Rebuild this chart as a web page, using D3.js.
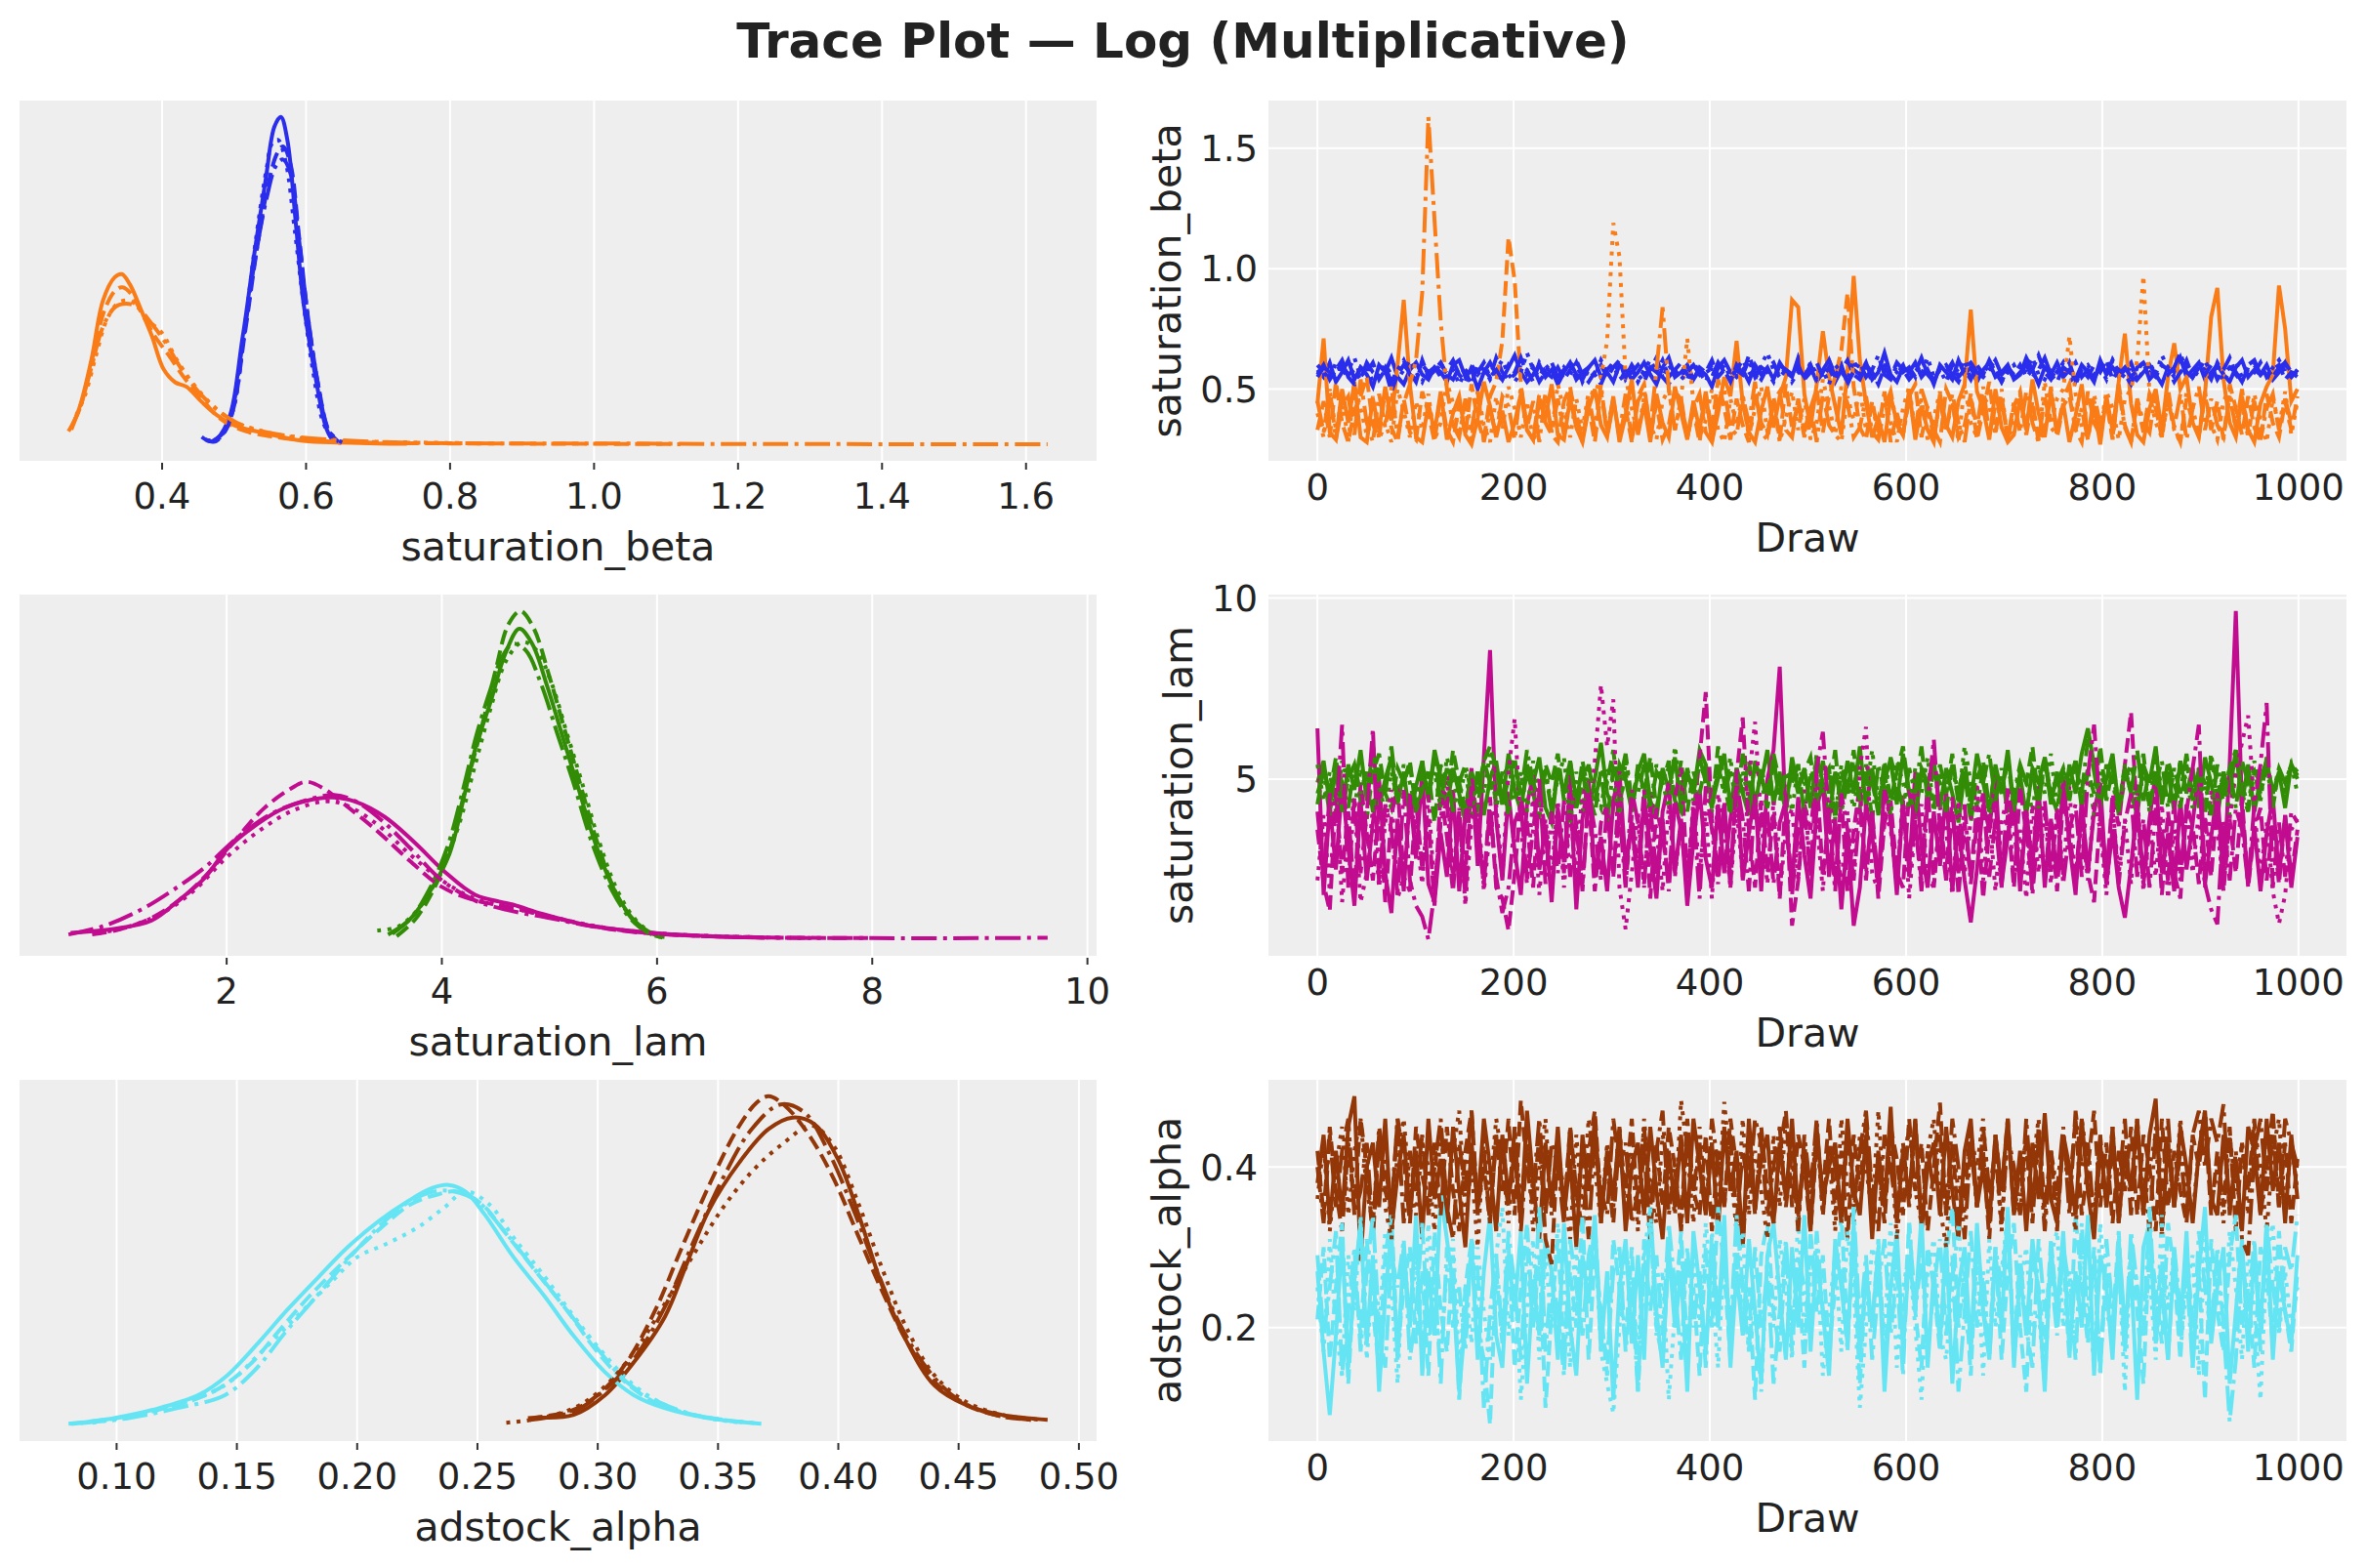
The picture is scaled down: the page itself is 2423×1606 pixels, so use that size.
<!DOCTYPE html>
<html>
<head>
<meta charset="utf-8">
<script src="https://cdn.jsdelivr.net/npm/d3@7"></script>
<style>
  body { margin: 0; background: #fff; }
  text { font-family: "DejaVu Sans", sans-serif; fill: #222; }
</style>
</head>
<body>
<script>
const width = 2423
const height = 1606

// ---- KDE curves, one per chain: [value, relative density] ----
const kdeBetaBlue = [
  [[0.455,2.3],[0.470,0.9],[0.491,6.8],[0.512,33],[0.528,58],[0.544,81],[0.556,97],[0.565,100],[0.574,93],[0.586,67],[0.596,44],[0.612,22],[0.628,5],[0.638,1.2],[0.649,0.5]],
  [[0.46,1.5],[0.475,1],[0.495,8],[0.515,34],[0.532,60],[0.548,80],[0.560,89],[0.568,91],[0.578,86],[0.590,64],[0.602,40],[0.617,18],[0.632,4],[0.645,0.8]],
  [[0.462,1.2],[0.48,2],[0.498,10],[0.515,36],[0.530,62],[0.545,84],[0.553,92],[0.561,93],[0.572,86],[0.584,66],[0.596,44],[0.610,22],[0.625,6],[0.64,1]],
  [[0.47,1],[0.49,5],[0.51,28],[0.528,55],[0.545,75],[0.558,85],[0.568,87],[0.578,83],[0.590,63],[0.602,40],[0.617,18],[0.632,4],[0.65,0.6]]
]
const kdeBetaOrange = [
  [[0.274,4.5],[0.287,12.5],[0.302,26],[0.318,44],[0.334,51],[0.344,52],[0.355,49],[0.371,41],[0.386,33],[0.402,23],[0.418,19],[0.434,17.6],[0.455,13],[0.476,9],[0.502,5.7],[0.544,3.4],[0.596,1.1],[0.649,0.6],[0.70,0.3],[0.74,0.2]],
  [[0.275,5.7],[0.29,14],[0.305,28],[0.32,41],[0.335,47],[0.345,48],[0.357,46],[0.372,40],[0.39,33],[0.41,27],[0.432,20],[0.455,14],[0.48,8],[0.51,4.5],[0.55,2.5],[0.60,1.3],[0.70,0.5],[0.85,0.3],[1.0,0.2],[1.12,0.1]],
  [[0.281,9],[0.293,15],[0.308,27],[0.323,38],[0.338,43],[0.35,44],[0.362,43],[0.38,38],[0.40,34],[0.42,26],[0.445,18],[0.47,12],[0.50,7],[0.54,4],[0.59,2],[0.65,1],[0.75,0.6],[0.85,0.3]],
  [[0.27,4],[0.284,10],[0.30,22],[0.318,36],[0.335,42],[0.35,43],[0.365,42],[0.385,37],[0.405,31],[0.43,22],[0.455,15],[0.48,10],[0.51,6],[0.55,3.5],[0.60,2],[0.70,0.8],[0.80,0.4],[1.0,0.3],[1.2,0.15],[1.4,0.1],[1.63,0.1]]
]
const kdeLamGreen = [
  [[3.54,1.7],[3.72,6.7],[3.89,14.6],[4.07,26],[4.21,44],[4.31,58],[4.45,72],[4.59,87],[4.72,94.6],[4.84,90],[4.98,77],[5.12,62],[5.26,47],[5.44,28],[5.61,14.6],[5.79,5.7],[5.96,1.7],[6.07,0.7]],
  [[3.58,1],[3.75,6],[3.92,15],[4.08,28],[4.22,46],[4.35,62],[4.5,82],[4.62,96],[4.73,100],[4.85,95],[5.0,80],[5.14,64],[5.28,48],[5.45,29],[5.62,14],[5.8,5],[5.95,1.5],[6.05,0.6]],
  [[3.40,2.7],[3.6,4],[3.8,10],[3.98,20],[4.15,34],[4.3,52],[4.45,70],[4.6,85],[4.75,90.6],[4.88,88],[5.02,78],[5.16,63],[5.3,48],[5.46,30],[5.63,15],[5.8,6],[5.95,2],[6.05,0.8]],
  [[3.5,1.5],[3.7,6],[3.88,15],[4.05,28],[4.2,46],[4.32,62],[4.45,76],[4.56,86],[4.66,90],[4.78,88],[4.92,78],[5.07,63],[5.22,48],[5.4,29],[5.58,15],[5.76,6],[5.92,2],[6.03,0.8]]
]
const kdeLamMagenta = [
  [[0.55,2],[0.95,3.2],[1.30,5.7],[1.58,12.6],[1.79,18.5],[2.0,27.4],[2.21,33.3],[2.49,39.3],[2.77,42.4],[2.98,43.2],[3.19,42],[3.47,37.3],[3.75,29.4],[4.03,20.5],[4.31,13.6],[4.66,10.6],[4.94,7.7],[5.30,4.7],[5.72,2.7],[6.07,1.7],[6.56,0.9],[7.0,0.5]],
  [[0.75,1.5],[1.0,3],[1.3,6.5],[1.6,13],[1.85,21],[2.1,31],[2.35,40],[2.6,46],[2.74,48],[2.9,46],[3.1,41],[3.4,33],[3.7,24],[4.0,16],[4.3,12],[4.6,10],[5.0,7],[5.4,4],[5.8,2.2],[6.3,1.2],[7.0,0.6],[8.0,0.4]],
  [[0.8,1.8],[1.1,4],[1.4,8],[1.7,15],[2.0,25],[2.3,33],[2.6,39],[2.91,42],[3.1,41],[3.4,35],[3.7,26],[4.0,18],[4.3,12.5],[4.6,10],[5.0,7],[5.4,4.2],[5.8,2.4],[6.3,1.3],[7.0,0.6],[7.5,0.4]],
  [[0.53,1.5],[0.85,4],[1.2,9],[1.5,15],[1.8,22],[2.1,31],[2.4,38],[2.7,42],[3.0,44],[3.2,42],[3.45,36],[3.7,28],[4.0,18],[4.3,12],[4.6,9],[5.0,6.5],[5.4,4],[5.8,2.3],[6.3,1.2],[7.0,0.6],[8.0,0.4],[9.0,0.4],[9.63,0.5]]
]
const kdeAlphaBrown = [
  [[0.275,2.2],[0.29,3],[0.303,9],[0.315,19],[0.328,33],[0.337,49],[0.346,65],[0.359,80],[0.371,90],[0.381,93.5],[0.39,91.5],[0.40,80.6],[0.409,62.7],[0.418,42.8],[0.428,25.9],[0.44,11.9],[0.453,6],[0.468,3],[0.487,1.5]],
  [[0.271,2],[0.288,4],[0.30,9],[0.312,19],[0.324,35],[0.335,54],[0.347,74],[0.358,90],[0.366,98],[0.371,100],[0.378,97],[0.388,88],[0.398,75],[0.408,58],[0.418,41],[0.428,26],[0.44,13],[0.453,6],[0.468,2.5],[0.48,1.5]],
  [[0.262,0.6],[0.275,1.8],[0.29,5],[0.302,11],[0.315,22],[0.328,37],[0.34,52],[0.352,66],[0.364,77],[0.376,85],[0.389,91],[0.398,85],[0.408,68],[0.418,48],[0.428,30],[0.44,15],[0.453,7],[0.468,3],[0.484,1.5]],
  [[0.272,1.5],[0.29,4],[0.302,10],[0.315,20],[0.328,36],[0.34,56],[0.352,75],[0.364,90],[0.376,97.5],[0.386,95],[0.396,83],[0.406,66],[0.416,47],[0.426,30],[0.438,16],[0.45,7.5],[0.465,3],[0.48,1.5]]
]
const kdeAlphaCyan = [
  [[0.081,0.2],[0.099,2],[0.115,4.5],[0.134,9],[0.146,15],[0.159,25],[0.171,35],[0.184,45],[0.196,54],[0.209,62],[0.221,68],[0.231,72],[0.238,73],[0.245,71],[0.253,64],[0.265,51],[0.278,39],[0.290,27],[0.303,16],[0.315,9],[0.328,5],[0.346,2],[0.368,0.3]],
  [[0.08,0.3],[0.10,2],[0.12,5],[0.14,10],[0.155,18],[0.168,29],[0.18,39],[0.195,50],[0.21,60],[0.222,67],[0.233,70],[0.242,71],[0.252,67],[0.262,58],[0.275,46],[0.288,34],[0.30,22],[0.313,12],[0.326,6],[0.34,3],[0.355,1.2],[0.365,0.5]],
  [[0.09,0.6],[0.105,2.5],[0.125,6],[0.145,12],[0.16,22],[0.175,33],[0.19,44],[0.20,51],[0.212,55],[0.225,60],[0.236,66],[0.245,71],[0.255,67],[0.265,57],[0.278,45],[0.29,33],[0.302,22],[0.315,12],[0.328,6],[0.342,2.5],[0.36,0.6]],
  [[0.085,0.4],[0.105,2],[0.125,5],[0.145,9],[0.158,17],[0.17,28],[0.183,39],[0.197,51],[0.21,61],[0.222,68],[0.232,71],[0.24,71],[0.25,68],[0.26,60],[0.273,48],[0.286,36],[0.30,23],[0.312,13],[0.325,7],[0.34,3],[0.36,0.8]]
]

// ---- trace values, 4 chains each, 160 samples spread over draws 0..999 ----
const traceBetaBlue = [
  [.58,.55,.61,.53,.57,.62,.54,.59,.56,.51,.60,.57,.63,.55,.52,.58,.61,.56,.54,.59,.57,.53,.60,.62,.55,.58,.50,.57,.61,.56,.54,.59,.64,.57,.53,.56,.60,.55,.58,.52,.57,.61,.56,.54,.59,.62,.55,.57,.53,.60,.58,.54,.57,.61,.56,.52,.59,.63,.55,.57,.60,.54,.58,.56,.51,.59,.62,.57,.55,.58,.53,.60,.56,.59,.54,.61,.57,.55,.63,.56,.59,.53,.57,.62,.55,.60,.52,.58,.56,.61,.54,.57,.65,.56,.53,.59,.57,.61,.55,.58,.52,.60,.57,.54,.62,.56,.59,.53,.58,.61,.55,.57,.60,.54,.56,.63,.58,.52,.59,.56,.61,.55,.58,.54,.60,.57,.53,.62,.56,.59,.55,.58,.61,.54,.57,.60,.56,.52,.59,.57,.63,.55,.58,.61,.54,.57,.60,.56,.53,.59,.62,.55,.58,.56,.60,.54,.57,.61,.55,.58],
  [.56,.60,.54,.58,.62,.55,.52,.59,.57,.61,.54,.58,.49,.56,.60,.57,.53,.62,.55,.58,.61,.56,.54,.59,.57,.52,.60,.58,.55,.63,.57,.54,.56,.60,.58,.53,.61,.57,.55,.59,.54,.58,.62,.56,.53,.57,.60,.55,.59,.62,.54,.57,.60,.56,.58,.63,.55,.52,.58,.61,.56,.54,.59,.57,.62,.55,.58,.53,.60,.56,.64,.57,.54,.59,.61,.55,.58,.56,.60,.54,.57,.61,.55,.59,.53,.58,.62,.56,.54,.60,.57,.52,.59,.55,.61,.58,.54,.57,.63,.56,.53,.59,.57,.61,.55,.58,.54,.60,.56,.62,.57,.53,.59,.56,.60,.55,.58,.64,.57,.54,.59,.56,.61,.53,.58,.55,.60,.57,.62,.54,.58,.56,.52,.59,.61,.57,.55,.60,.58,.53,.57,.62,.55,.59,.56,.60,.54,.58,.63,.56,.53,.59,.57,.61,.55,.58,.60,.54,.57,.56],
  [.60,.57,.54,.61,.56,.58,.63,.55,.59,.53,.57,.60,.56,.54,.58,.62,.57,.53,.59,.56,.61,.55,.58,.52,.57,.60,.56,.59,.54,.58,.62,.56,.53,.57,.65,.58,.55,.60,.57,.54,.59,.56,.61,.53,.58,.55,.62,.57,.60,.54,.56,.59,.53,.58,.62,.57,.55,.60,.56,.58,.54,.61,.57,.53,.59,.56,.60,.55,.58,.62,.57,.54,.60,.65,.58,.55,.59,.53,.57,.55,.61,.56,.58,.52,.60,.57,.54,.62,.56,.59,.53,.58,.61,.55,.57,.60,.54,.59,.56,.63,.55,.58,.53,.60,.57,.62,.54,.58,.56,.61,.59,.53,.57,.60,.55,.58,.63,.56,.54,.59,.57,.61,.55,.52,.58,.60,.56,.59,.54,.62,.57,.55,.60,.53,.58,.61,.56,.64,.59,.55,.57,.60,.54,.58,.62,.56,.59,.53,.57,.61,.55,.58,.60,.56,.54,.59,.62,.57,.55,.58],
  [.55,.59,.57,.53,.60,.56,.58,.54,.61,.57,.55,.59,.53,.58,.62,.56,.54,.60,.57,.59,.55,.58,.62,.56,.53,.59,.57,.61,.55,.58,.54,.60,.57,.63,.56,.59,.53,.57,.61,.55,.58,.60,.54,.57,.59,.56,.52,.58,.61,.57,.55,.60,.56,.53,.59,.57,.62,.55,.58,.54,.57,.60,.56,.59,.55,.61,.57,.54,.58,.56,.62,.55,.59,.57,.53,.60,.58,.56,.59,.55,.60,.54,.58,.62,.56,.59,.53,.57,.61,.55,.58,.64,.56,.54,.60,.57,.59,.55,.62,.57,.54,.58,.60,.56,.53,.59,.61,.57,.55,.58,.62,.56,.59,.54,.57,.60,.55,.58,.63,.56,.53,.59,.57,.61,.55,.58,.54,.60,.57,.62,.56,.59,.55,.58,.61,.54,.57,.60,.56,.59,.65,.57,.55,.60,.58,.54,.61,.56,.59,.57,.53,.60,.62,.56,.58,.55,.59,.61,.57,.55]
]
const traceBetaOrange = [
  [.44,.71,.32,.29,.50,.36,.53,.30,.28,.46,.33,.51,.37,.60,.87,.52,.30,.28,.44,.32,.49,.29,.40,.47,.31,.27,.38,.53,.43,.30,.41,.28,.36,.48,.33,.29,.45,.38,.52,.31,.29,.46,.34,.28,.42,.50,.35,.30,.47,.28,.39,.54,.31,.44,.28,.48,.36,.30,.51,.40,.29,.45,.33,.49,.28,.40,.55,.47,.70,.44,.32,.28,.41,.51,.34,.47,.55,.87,.84,.48,.34,.52,.74,.55,.43,.31,.58,.97,.62,.44,.30,.38,.28,.47,.36,.31,.50,.29,.43,.33,.28,.48,.35,.30,.45,.52,.83,.49,.42,.29,.50,.34,.28,.31,.46,.33,.54,.40,.30,.49,.32,.44,.28,.39,.52,.30,.43,.27,.47,.33,.53,.73,.44,.31,.28,.42,.50,.33,.55,.69,.50,.55,.36,.30,.48,.80,.92,.54,.36,.30,.47,.33,.28,.44,.51,.56,.93,.75,.45,.50],
  [.33,.45,.30,.53,.36,.28,.41,.47,.55,.35,.30,.50,.34,.28,.46,.32,.29,.49,.40,.28,.48,.33,.28,.44,.31,.52,.37,.29,.47,.53,.70,1.13,.95,.52,.33,.29,.48,.36,.31,.28,.45,.51,.34,.29,.43,.28,.49,.33,.46,.30,.42,.28,.47,.52,.31,.44,.29,.35,.50,.45,.30,.41,.28,.48,.33,.54,.42,.29,.46,.35,.28,.49,.36,.31,.47,.29,.52,.34,.44,.30,.42,.50,.32,.47,.55,.66,.90,.51,.34,.29,.45,.32,.49,.28,.40,.31,.47,.52,.30,.43,.33,.28,.50,.44,.30,.35,.48,.29,.41,.53,.32,.46,.29,.43,.49,.31,.45,.28,.34,.51,.30,.43,.47,.33,.28,.49,.36,.31,.46,.29,.52,.35,.28,.45,.32,.48,.42,.30,.50,.34,.28,.46,.36,.31,.49,.33,.45,.29,.52,.42,.31,.47,.34,.28,.48,.36,.30,.45,.33,.47],
  [.40,.30,.49,.33,.46,.28,.52,.42,.31,.47,.29,.36,.28,.50,.41,.30,.45,.33,.48,.29,.36,.53,.44,.31,.42,.29,.49,.35,.28,.47,.33,.51,.42,.30,.45,.28,.37,.48,.32,.52,.41,.30,.46,.33,.49,.48,.55,.70,1.19,1.05,.55,.42,.31,.47,.35,.29,.45,.50,.33,.46,.71,.44,.30,.37,.50,.33,.28,.46,.35,.48,.30,.42,.51,.32,.45,.28,.38,.49,.33,.46,.29,.36,.54,.43,.31,.28,.47,.37,.50,.33,.45,.30,.48,.36,.28,.42,.51,.32,.46,.29,.38,.49,.33,.45,.28,.52,.36,.30,.47,.43,.31,.50,.28,.37,.48,.33,.45,.29,.53,.36,.46,.50,.72,.48,.34,.30,.45,.33,.49,.42,.29,.46,.50,.62,.97,.48,.36,.30,.46,.33,.28,.49,.42,.31,.47,.35,.29,.45,.50,.33,.43,.30,.48,.37,.28,.46,.34,.49,.31,.45],
  [.45,.32,.50,.29,.43,.47,.31,.54,.36,.28,.48,.34,.51,.30,.44,.52,.62,.90,1.63,1.20,.78,.50,.35,.30,.46,.33,.49,.28,.41,.31,.47,.43,.29,.51,.34,.45,.28,.48,.32,.46,.31,.49,.40,.28,.47,.33,.52,.30,.44,.32,.48,.29,.45,.50,.34,.58,.84,.50,.33,.46,.30,.42,.48,.32,.28,.45,.50,.34,.31,.47,.36,.53,.32,.29,.45,.49,.33,.30,.46,.32,.43,.28,.48,.35,.31,.51,.44,.30,.34,.47,.32,.29,.42,.49,.35,.31,.46,.33,.50,.42,.30,.45,.32,.48,.36,.28,.46,.34,.51,.31,.43,.47,.29,.45,.32,.49,.36,.28,.47,.34,.31,.46,.52,.33,.42,.29,.48,.35,.45,.30,.50,.34,.28,.46,.36,.32,.49,.31,.45,.34,.48,.29,.42,.51,.33,.46,.35,.30,.47,.34,.50,.31,.45,.29,.42,.48,.33,.46,.36,.41]
]
const traceLamGreen = [
  [4.9,5.5,4.3,5.2,4.1,5.4,4.7,5.8,4.4,5.9,4.2,5.0,5.6,4.3,5.2,3.9,4.8,5.5,4.4,5.8,5.0,4.2,5.3,4.6,3.8,4.4,5.2,4.0,5.0,5.5,4.3,5.7,4.7,4.1,5.4,4.9,5.6,4.2,3.8,5.3,4.6,5.5,4.4,5.3,4.0,5.0,6.0,4.6,4.2,5.4,5.0,4.1,5.2,5.7,4.4,3.9,5.3,4.7,5.6,4.2,5.2,4.6,5.8,5.4,4.3,5.0,5.7,4.2,5.3,4.6,4.0,5.5,4.9,5.8,4.3,5.2,4.1,5.6,4.7,5.3,4.2,5.6,4.9,3.9,5.2,4.4,5.5,4.6,5.9,4.2,5.3,4.0,5.0,5.5,4.3,5.7,4.6,3.9,5.2,4.9,5.5,4.2,5.3,4.6,3.8,5.2,4.4,5.7,4.9,4.1,5.4,4.6,5.8,4.2,5.1,4.0,5.3,4.9,5.6,4.3,5.2,4.1,5.4,4.6,5.7,6.4,5.4,4.3,5.0,5.7,4.2,5.3,4.6,4.0,5.4,4.9,5.9,4.3,5.2,4.1,5.5,4.6,5.3,4.2,5.6,4.9,3.9,5.2,4.6,5.8,4.3,5.4,4.1,5.0,5.5,4.6,5.2,4.2,5.4,5.1],
  [4.3,5.3,4.6,5.6,4.1,5.0,5.4,4.4,3.9,5.2,5.7,4.6,4.2,5.3,4.9,5.5,4.1,4.7,5.2,3.8,5.4,4.4,5.8,4.9,4.2,5.2,4.6,5.5,5.9,5.3,4.3,5.0,5.6,4.2,5.2,4.6,3.9,5.4,4.9,5.7,4.4,5.2,4.2,5.5,4.6,4.0,5.3,4.9,5.8,4.3,5.2,4.1,5.4,4.6,5.6,4.2,5.0,5.3,4.4,5.5,4.1,5.2,4.6,5.4,4.2,5.9,4.9,4.0,5.3,4.6,5.5,4.3,5.2,4.2,5.7,4.9,4.1,5.4,4.6,5.2,5.6,4.3,5.0,5.3,3.9,5.2,4.6,5.8,4.2,5.4,4.9,4.1,5.5,4.4,5.2,5.9,4.6,4.0,5.3,4.9,4.2,5.4,4.6,5.7,4.3,5.2,3.8,5.0,5.5,4.2,5.3,4.6,5.6,4.1,5.2,4.9,5.9,4.4,5.4,4.6,4.1,5.3,4.9,5.5,4.2,5.2,4.6,5.9,4.4,5.3,4.0,5.0,5.4,4.6,5.7,4.2,5.2,4.4,5.5,4.9,4.2,5.4,4.6,5.2,4.0,5.6,4.9,4.4,5.3,5.8,4.6,4.1,5.2,4.9,5.5,4.2,5.3,4.6,5.4,5.0],
  [5.4,4.4,5.2,4.1,5.5,4.9,4.2,5.3,4.6,5.9,4.9,4.0,5.2,4.4,5.4,4.9,4.1,5.5,4.6,5.2,4.2,5.6,4.9,4.4,5.3,4.0,5.2,4.6,5.7,4.2,5.0,5.4,4.4,5.2,4.1,5.5,4.6,5.3,4.2,5.0,5.6,3.8,5.2,4.1,5.4,4.6,4.2,5.3,4.9,4.0,5.5,4.4,5.2,4.6,4.1,5.4,4.9,4.2,5.9,4.6,5.2,4.4,5.5,4.9,4.1,5.3,4.6,5.6,4.2,5.2,4.4,5.4,4.9,4.2,5.5,4.6,5.2,4.1,5.4,4.9,4.4,5.7,4.6,5.2,3.9,5.4,4.9,4.2,5.3,4.6,5.8,4.4,5.2,4.0,5.5,4.9,4.2,5.3,4.6,5.6,4.1,5.2,4.6,5.4,4.4,5.9,4.9,4.2,5.3,3.9,5.2,4.6,5.5,4.4,5.3,4.9,4.1,5.4,4.6,5.7,4.2,5.2,4.9,5.5,4.4,5.3,4.0,5.2,4.6,5.6,4.2,5.4,4.9,4.4,5.3,4.1,5.8,4.6,5.2,4.4,5.5,4.9,4.2,5.3,4.6,5.7,4.4,5.2,4.0,5.4,4.9,4.2,5.5,4.6,5.3,4.4,5.2,4.9,5.4,4.6],
  [4.6,5.2,4.0,5.5,4.9,4.2,5.4,4.6,5.2,4.1,5.3,4.6,5.9,4.4,4.9,5.4,4.2,5.2,4.6,5.6,4.4,5.3,4.1,4.9,5.4,4.6,4.2,5.5,4.9,4.4,5.2,4.0,5.4,4.6,5.8,4.9,4.4,5.2,4.1,5.3,4.6,5.5,4.2,4.9,5.4,4.4,5.2,3.8,5.3,4.9,5.7,4.4,4.6,5.4,4.2,5.2,4.9,5.5,4.4,4.1,5.3,4.6,5.6,4.9,4.2,5.4,4.6,5.2,4.4,5.7,4.9,4.2,5.3,4.6,5.5,4.4,5.2,4.9,5.4,4.0,5.2,4.4,5.5,4.6,5.8,4.1,4.9,5.3,4.4,5.2,3.9,5.4,4.6,5.6,4.9,4.2,5.3,4.6,5.9,4.4,5.2,4.9,4.1,5.4,4.6,5.5,4.2,5.2,4.9,5.7,4.4,5.3,4.0,4.6,5.4,4.9,5.2,4.2,5.6,4.6,4.9,5.3,4.4,5.5,4.6,6.1,5.2,4.2,5.4,4.9,4.1,5.3,4.6,5.8,4.4,5.2,4.9,5.5,4.2,5.3,4.6,5.7,4.4,5.2,4.9,4.0,5.4,4.6,5.3,4.2,5.5,4.9,5.2,4.4,5.6,4.6,5.3,4.9,5.4,5.2]
]
const traceLamMagenta = [
  [6.4,1.8,4.3,2.5,4.9,3.1,1.5,4.4,2.2,3.8,5.0,2.4,1.3,3.9,1.9,4.6,2.8,5.2,2.1,1.6,3.5,2.3,4.7,1.9,4.0,5.3,2.6,5.6,8.56,3.9,2.2,4.6,3.0,1.8,4.3,5.1,2.5,3.7,1.6,4.2,2.7,4.8,1.4,3.9,5.0,2.3,3.4,1.9,4.4,5.2,2.6,3.8,2.0,4.5,3.1,1.7,4.1,4.9,2.4,3.9,1.5,3.3,4.7,2.8,2.0,4.3,2.4,3.9,5.1,2.2,3.5,4.6,1.9,5.0,5.8,8.1,3.8,2.1,4.5,2.9,1.7,4.2,4.9,2.3,3.9,1.4,3.5,0.95,2.0,4.3,3.4,2.2,4.8,3.9,1.8,4.4,2.5,5.2,3.1,2.0,4.1,2.6,4.7,1.9,3.7,2.2,1.04,2.5,4.3,3.6,5.1,2.1,3.4,4.6,1.9,4.1,2.6,4.8,2.0,3.9,2.3,5.0,3.2,1.8,4.4,2.4,4.1,4.9,2.1,3.6,2.0,1.17,2.6,4.3,2.3,3.9,5.2,2.4,3.5,1.9,4.4,2.5,3.8,5.3,2.1,3.4,4.7,2.2,5.4,9.64,4.2,2.1,3.7,1.9,3.5,4.5,2.3,4.0,2.0,3.4],
  [3.6,2.1,1.35,4.6,2.4,4.1,1.8,4.9,3.5,2.2,4.3,1.6,4.0,4.8,2.3,1.9,4.4,2.5,3.9,1.5,4.7,3.4,1.9,4.1,2.4,5.0,3.8,2.1,4.5,2.0,1.7,0.81,2.4,4.4,3.8,2.0,4.7,3.5,1.9,4.1,2.4,5.1,3.7,2.1,4.6,1.9,3.8,4.3,2.3,4.9,2.1,4.0,2.5,4.7,1.7,4.2,3.4,2.2,4.5,5.3,2.3,4.0,5.6,7.4,3.9,2.3,4.4,2.0,5.1,6.7,3.6,2.0,4.4,2.4,4.1,1.7,4.6,0.95,2.2,4.3,3.6,5.1,2.3,4.0,2.1,4.5,1.9,3.6,4.8,2.2,4.1,1.7,3.8,4.4,2.4,2.0,4.7,3.8,2.2,4.9,2.0,4.0,2.4,4.5,1.8,3.8,2.3,4.3,1.7,3.6,4.4,2.2,4.0,2.0,4.8,3.5,2.1,4.1,2.3,3.9,1.9,4.5,3.5,2.2,4.3,2.4,1.6,4.0,2.1,4.6,3.7,5.4,6.85,3.9,2.1,3.6,4.5,1.8,4.1,2.4,1.7,4.3,3.7,2.1,4.0,2.3,4.4,1.9,3.9,2.4,4.5,2.0,3.6,4.2,2.2,3.8,2.1,4.0,2.3,3.6],
  [2.2,4.0,1.9,4.8,1.6,3.6,4.4,1.6,2.4,4.2,2.0,3.8,4.7,1.7,2.3,4.3,3.6,2.1,4.6,1.8,3.9,5.1,2.2,4.2,1.5,3.8,4.4,1.9,3.6,4.3,2.3,5.2,6.67,3.6,2.1,4.6,1.8,3.9,2.4,4.4,2.0,4.1,2.3,4.8,3.8,5.5,7.6,5.9,7.2,2.0,0.85,2.4,4.1,2.0,4.7,3.6,1.9,4.3,2.3,3.9,2.1,4.4,2.4,4.1,1.7,4.6,3.6,2.0,4.2,2.3,5.0,6.58,3.8,2.1,4.4,1.8,3.6,4.2,2.2,4.8,2.4,3.9,1.9,4.4,3.6,2.1,4.1,2.3,5.3,6.44,2.4,1.9,4.1,3.6,2.1,4.6,1.7,3.8,4.3,2.3,2.0,4.2,3.6,1.8,4.4,2.4,3.9,4.9,2.2,4.1,1.9,3.8,4.6,2.1,3.6,1.7,4.3,2.4,4.1,2.1,4.2,2.3,4.8,2.0,3.8,2.2,4.4,3.6,1.8,4.2,2.4,3.9,2.1,4.6,1.9,3.8,2.3,4.3,1.7,3.6,2.2,4.2,2.4,4.1,2.0,4.7,3.6,2.1,3.9,5.2,6.0,6.75,4.2,2.3,3.8,1.9,1.0,1.8,3.6,3.9],
  [4.1,2.3,4.6,3.8,6.5,2.0,4.5,2.4,4.0,6.4,2.1,4.3,3.6,1.8,4.7,2.2,1.5,1.2,0.57,1.9,3.8,4.4,2.2,4.1,1.7,4.8,3.6,2.1,4.2,2.3,1.3,2.0,3.8,4.3,2.2,3.6,5.0,2.1,4.1,2.4,4.4,2.3,3.9,1.9,4.6,3.6,2.2,4.2,2.4,4.1,2.0,4.7,3.8,2.1,4.3,2.3,3.9,1.9,4.4,3.6,2.2,4.2,1.7,4.8,3.6,2.1,4.3,2.3,4.9,3.9,1.9,4.6,2.4,4.1,2.1,3.8,4.4,1.8,3.6,4.2,2.3,5.3,6.3,3.9,1.9,4.6,3.6,2.2,4.2,2.4,4.1,2.0,4.7,3.8,2.1,4.3,2.3,3.9,1.9,4.4,6.1,3.6,2.2,4.1,2.4,4.3,2.1,3.8,4.6,2.3,3.9,2.0,4.8,3.6,2.2,4.2,1.8,3.8,4.4,2.4,4.1,2.1,3.6,4.3,2.3,5.1,6.5,4.1,2.4,4.3,2.1,3.8,4.6,2.3,3.9,2.0,4.2,3.6,2.2,4.4,2.4,4.1,5.3,6.5,2.1,1.4,0.99,3.9,2.2,4.2,3.6,2.1,4.3,5.4,7.1,2.0,3.8,2.3,4.1,3.8]
]
const traceAlphaBrown = [
  [.38,.44,.33,.42,.34,.45,.488,.283,.40,.43,.35,.46,.32,.39,.44,.34,.42,.31,.46,.36,.41,.33,.45,.37,.30,.43,.35,.46,.40,.32,.44,.36,.42,.33,.47,.38,.31,.43,.35,.45,.34,.41,.30,.44,.37,.46,.33,.42,.36,.45,.32,.40,.43,.34,.45,.37,.31,.42,.35,.44,.33,.46,.40,.34,.43,.32,.45,.37,.42,.30,.46,.35,.41,.44,.33,.43,.36,.46,.34,.42,.32,.45,.36,.40,.43,.33,.46,.37,.34,.44,.31,.42,.35,.475,.33,.42,.36,.46,.32,.40,.43,.34,.45,.37,.31,.42,.46,.35,.40,.33,.44,.37,.46,.34,.42,.32,.43,.36,.467,.36,.33,.44,.40,.34,.46,.37,.31,.43,.35,.45,.33,.42,.37,.46,.34,.44,.485,.32,.43,.35,.45,.40,.33,.42,.47,.36,.34,.44,.35,.41,.32,.45,.42,.34,.46,.37,.43,.33,.44,.36],
  [.42,.34,.45,.37,.32,.43,.35,.46,.40,.31,.44,.37,.34,.46,.41,.33,.45,.39,.35,.43,.34,.45,.37,.32,.42,.47,.35,.40,.33,.44,.37,.46,.34,.483,.40,.35,.44,.31,.279,.43,.34,.45,.37,.32,.42,.47,.35,.40,.33,.44,.37,.46,.34,.42,.31,.43,.35,.45,.40,.33,.46,.37,.34,.44,.32,.42,.35,.46,.40,.30,.43,.34,.45,.37,.33,.42,.47,.35,.44,.40,.32,.43,.37,.46,.34,.42,.31,.44,.37,.46,.35,.40,.33,.45,.41,.34,.46,.37,.43,.32,.40,.48,.34,.43,.33,.37,.45,.35,.42,.31,.44,.37,.46,.34,.40,.43,.33,.45,.35,.42,.32,.44,.37,.46,.34,.40,.47,.35,.43,.33,.42,.37,.45,.34,.44,.40,.32,.46,.35,.42,.37,.33,.44,.40,.46,.34,.42,.35,.45,.32,.43,.37,.46,.34,.40,.47,.35,.43,.33,.41],
  [.36,.43,.32,.40,.45,.34,.42,.46,.37,.33,.44,.35,.31,.42,.46,.37,.34,.43,.40,.32,.45,.35,.42,.47,.34,.40,.30,.44,.37,.46,.41,.33,.45,.35,.43,.32,.40,.46,.34,.42,.37,.31,.44,.35,.46,.40,.33,.43,.35,.45,.34,.42,.32,.46,.37,.33,.44,.40,.34,.483,.42,.33,.45,.35,.43,.34,.481,.40,.32,.46,.34,.42,.37,.31,.44,.35,.46,.40,.33,.43,.35,.45,.34,.42,.32,.46,.37,.33,.44,.40,.34,.47,.35,.43,.31,.40,.45,.37,.33,.42,.46,.35,.30,.43,.37,.34,.44,.40,.46,.35,.42,.32,.45,.37,.34,.43,.40,.46,.33,.42,.35,.44,.37,.32,.46,.40,.34,.43,.35,.45,.33,.42,.37,.46,.34,.40,.44,.31,.43,.35,.46,.37,.34,.42,.47,.35,.40,.33,.44,.37,.43,.34,.45,.40,.32,.42,.46,.35,.43,.37],
  [.40,.33,.44,.35,.42,.46,.34,.37,.43,.32,.45,.40,.35,.46,.33,.42,.37,.44,.34,.40,.46,.35,.31,.43,.37,.47,.34,.42,.33,.44,.40,.35,.45,.32,.42,.37,.46,.34,.43,.40,.33,.45,.35,.42,.31,.44,.37,.34,.46,.40,.43,.33,.37,.45,.35,.42,.47,.34,.40,.32,.44,.37,.43,.34,.46,.40,.35,.44,.33,.42,.37,.46,.43,.34,.40,.45,.35,.42,.32,.44,.37,.46,.34,.43,.40,.33,.45,.35,.42,.47,.37,.32,.44,.40,.34,.43,.35,.46,.33,.42,.37,.44,.34,.46,.40,.31,.43,.35,.45,.37,.42,.33,.44,.40,.34,.46,.35,.43,.32,.42,.37,.45,.34,.47,.40,.43,.33,.44,.35,.42,.37,.46,.34,.43,.40,.32,.45,.37,.46,.35,.42,.34,.44,.47,.40,.46,.43,.478,.34,.42,.31,.29,.42,.46,.37,.44,.35,.46,.43,.40]
]
const traceAlphaCyan = [
  [.27,.17,.091,.19,.31,.15,.26,.33,.18,.29,.12,.24,.32,.16,.30,.20,.34,.14,.27,.19,.368,.31,.25,.12,.21,.30,.16,.27,.34,.19,.15,.29,.22,.32,.13,.26,.19,.31,.27,.16,.33,.20,.14,.29,.23,.34,.17,.27,.11,.25,.31,.18,.29,.16,.35,.22,.15,.30,.20,.27,.12,.32,.25,.17,.30,.20,.34,.15,.27,.19,.31,.22,.13,.29,.33,.24,.16,.30,.20,.34,.17,.29,.22,.14,.31,.25,.18,.33,.16,.27,.20,.30,.12,.25,.32,.17,.29,.22,.34,.15,.27,.18,.31,.13,.25,.30,.17,.33,.22,.16,.29,.20,.35,.15,.27,.19,.31,.24,.12,.30,.22,.32,.17,.27,.20,.34,.14,.29,.25,.16,.31,.20,.27,.11,.30,.33,.18,.25,.16,.29,.20,.32,.15,.27,.35,.18,.25,.30,.13,.22,.31,.17,.29,.20,.33,.16,.27,.22,.18,.29],
  [.21,.30,.16,.25,.33,.13,.27,.19,.31,.22,.15,.29,.34,.17,.25,.30,.18,.27,.14,.32,.22,.17,.29,.11,.25,.31,.20,.16,.079,.27,.18,.30,.15,.25,.33,.20,.29,.10,.22,.31,.17,.27,.20,.34,.16,.29,.22,.14,.31,.25,.18,.30,.12,.27,.33,.20,.16,.29,.22,.32,.17,.25,.14,.30,.20,.35,.27,.16,.31,.19,.25,.11,.29,.33,.22,.17,.30,.20,.27,.15,.32,.22,.29,.17,.25,.34,.19,.30,.13,.27,.20,.31,.16,.25,.29,.19,.33,.22,.15,.30,.25,.17,.29,.35,.20,.27,.14,.31,.22,.18,.30,.16,.27,.33,.20,.12,.29,.25,.17,.31,.22,.29,.16,.34,.25,.18,.30,.15,.27,.20,.32,.17,.29,.22,.13,.31,.25,.18,.33,.27,.16,.30,.20,.27,.11,.31,.22,.17,.29,.34,.20,.25,.15,.30,.27,.18,.32,.22,.17,.27],
  [.25,.17,.31,.20,.14,.29,.22,.34,.16,.27,.19,.32,.25,.13,.30,.20,.29,.16,.33,.22,.17,.27,.31,.15,.25,.18,.30,.22,.16,.29,.35,.19,.27,.11,.22,.31,.16,.29,.20,.33,.25,.15,.30,.19,.27,.32,.17,.13,.093,.20,.30,.25,.17,.29,.35,.19,.27,.11,.22,.31,.16,.29,.20,.33,.25,.15,.30,.19,.27,.32,.17,.22,.12,.29,.20,.31,.25,.16,.34,.19,.27,.30,.14,.22,.29,.17,.32,.25,.10,.20,.30,.27,.19,.33,.15,.25,.29,.20,.11,.27,.31,.19,.16,.25,.33,.22,.17,.29,.14,.31,.20,.27,.34,.16,.25,.30,.19,.22,.13,.29,.32,.20,.27,.17,.30,.25,.15,.33,.22,.19,.29,.12,.31,.25,.20,.27,.16,.34,.22,.30,.17,.25,.29,.14,.31,.20,.27,.19,.32,.25,.16,.30,.22,.11,.29,.33,.19,.27,.20,.25],
  [.29,.19,.25,.32,.14,.22,.30,.17,.27,.34,.20,.15,.29,.25,.31,.16,.22,.33,.19,.27,.13,.30,.20,.25,.17,.31,.27,.10,.22,.29,.19,.32,.25,.16,.30,.20,.35,.17,.27,.22,.14,.31,.25,.19,.29,.33,.20,.16,.27,.30,.17,.25,.12,.31,.22,.29,.19,.33,.25,.16,.30,.20,.27,.15,.32,.22,.29,.19,.34,.25,.17,.30,.20,.27,.13,.22,.31,.17,.29,.25,.19,.32,.22,.15,.30,.27,.17,.35,.20,.29,.16,.25,.31,.19,.27,.14,.33,.22,.29,.17,.25,.31,.19,.29,.12,.22,.32,.20,.27,.16,.30,.25,.34,.17,.29,.20,.15,.31,.22,.27,.19,.30,.25,.16,.33,.20,.29,.14,.31,.22,.27,.17,.32,.25,.19,.35,.20,.29,.16,.30,.22,.27,.15,.32,.25,.19,.30,.20,.083,.16,.29,.22,.31,.17,.33,.25,.20,.30,.27,.34]
]

// ---- tick labels ----
const kdeTicksBeta = [0.4, 0.6, 0.8, 1.0, 1.2, 1.4, 1.6]
const kdeTicksLam = [2, 4, 6, 8, 10]
const kdeTicksAlpha = [0.10, 0.15, 0.20, 0.25, 0.30, 0.35, 0.40, 0.45, 0.50]
const traceTicksBeta = [0.5, 1.0, 1.5]
const traceTicksLam = [5, 10]
const traceTicksAlpha = [0.2, 0.4]
const drawTicks = [0, 200, 400, 600, 800, 1000]
const lastDraw = 999

// ---- layout ----
const leftX = [20, 1123]
const rightX = [1299, 2403]
const rowY = [[103, 472], [609, 979], [1106, 1476]]
const lineDash = [null, '15,6.5', '4,6.6', '26,6.5,4,6.5']

const rows = [
  {name: 'saturation_beta', colors: ['#2a2eec', '#fa7c17'], kde: [kdeBetaBlue, kdeBetaOrange],
   trace: [traceBetaBlue, traceBetaOrange], kTicks: kdeTicksBeta, tTicks: traceTicksBeta,
   kFmt: d3.format('.1f'), tFmt: d3.format('.1f')},
  {name: 'saturation_lam', colors: ['#328c06', '#c10c90'], kde: [kdeLamGreen, kdeLamMagenta],
   trace: [traceLamGreen, traceLamMagenta], kTicks: kdeTicksLam, tTicks: traceTicksLam,
   kFmt: d3.format('d'), tFmt: d3.format('d')},
  {name: 'adstock_alpha', colors: ['#933708', '#65e5f3'], kde: [kdeAlphaBrown, kdeAlphaCyan],
   trace: [traceAlphaBrown, traceAlphaCyan], kTicks: kdeTicksAlpha, tTicks: traceTicksAlpha,
   kFmt: d3.format('.2f'), tFmt: d3.format('.1f')}
]

function padded(ext) {
  const m = (ext[1] - ext[0]) * 0.05
  return [ext[0] - m, ext[1] + m]
}

const svg = d3.select('body').append('svg')
    .attr('width', width)
    .attr('height', height)

svg.append('text')
    .attr('x', width / 2)
    .attr('y', 59)
    .attr('text-anchor', 'middle')
    .style('font-size', '50px')
    .style('font-weight', 'bold')
    .text('Trace Plot \u2014 Log (Multiplicative)')

rows.forEach((r, k) => {
  const [top, bottom] = rowY[k]

  // ---------- left: KDE ----------
  const pts = r.kde.flat(2)
  const kx = d3.scaleLinear().domain(padded(d3.extent(pts, d => d[0]))).range(leftX)
  const ky = d3.scaleLinear().domain(padded([0, d3.max(pts, d => d[1])])).range([bottom, top])
  const gL = svg.append('g')

  gL.append('rect')
      .attr('x', leftX[0]).attr('y', top)
      .attr('width', leftX[1] - leftX[0]).attr('height', bottom - top)
      .style('fill', '#eeeeee')

  gL.selectAll('line.grid').data(r.kTicks).join('line')
      .attr('x1', d => kx(d)).attr('x2', d => kx(d))
      .attr('y1', top).attr('y2', bottom)
      .style('stroke', '#fff').style('stroke-width', 2)

  gL.selectAll('line.tick').data(r.kTicks).join('line')
      .attr('x1', d => kx(d)).attr('x2', d => kx(d))
      .attr('y1', bottom + 2).attr('y2', bottom + 9)
      .style('stroke', '#333').style('stroke-width', 2)

  gL.selectAll('text.tl').data(r.kTicks).join('text')
      .attr('x', d => kx(d)).attr('y', bottom + 49)
      .attr('text-anchor', 'middle')
      .style('font-size', '37px')
      .text(d => r.kFmt(d))

  gL.append('text')
      .attr('x', (leftX[0] + leftX[1]) / 2).attr('y', bottom + 102)
      .attr('text-anchor', 'middle')
      .style('font-size', '41px')
      .text(r.name)

  const kline = d3.line().x(d => kx(d[0])).y(d => ky(d[1])).curve(d3.curveCatmullRom.alpha(0.5))
  // chains outer, colours inner, so the two groups interleave as in the original
  for (let ch = 0; ch < 4; ch++) {
    r.kde.forEach((chains, c) => {
      gL.append('path')
          .attr('d', kline(chains[ch]))
          .style('fill', 'none')
          .style('stroke', r.colors[c])
          .style('stroke-width', 4)
          .style('stroke-dasharray', lineDash[ch])
    })
  }

  // ---------- right: trace ----------
  const vals = r.trace.flat(2)
  const tx = d3.scaleLinear().domain(padded([0, lastDraw])).range(rightX)
  const ty = d3.scaleLinear().domain(padded(d3.extent(vals))).range([bottom, top])
  const gR = svg.append('g')

  gR.append('rect')
      .attr('x', rightX[0]).attr('y', top)
      .attr('width', rightX[1] - rightX[0]).attr('height', bottom - top)
      .style('fill', '#eeeeee')

  gR.selectAll('line.vg').data(drawTicks).join('line')
      .attr('x1', d => tx(d)).attr('x2', d => tx(d))
      .attr('y1', top).attr('y2', bottom)
      .style('stroke', '#fff').style('stroke-width', 2)

  gR.selectAll('line.hg').data(r.tTicks).join('line')
      .attr('x1', rightX[0]).attr('x2', rightX[1])
      .attr('y1', d => ty(d)).attr('y2', d => ty(d))
      .style('stroke', '#fff').style('stroke-width', 2)

  gR.selectAll('text.xl').data(drawTicks).join('text')
      .attr('x', d => tx(d)).attr('y', bottom + 39.5)
      .attr('text-anchor', 'middle')
      .style('font-size', '37px')
      .text(d => d)

  const yl = gR.selectAll('text.yl').data(r.tTicks).join('text')
      .attr('x', rightX[0] - 11).attr('y', d => ty(d))
      .attr('dy', '0.36em')
      .attr('text-anchor', 'end')
      .style('font-size', '37px')
      .text(d => r.tFmt(d))

  let maxW = 0
  yl.each(function() { maxW = Math.max(maxW, this.getComputedTextLength()) })

  gR.append('text')
      .attr('transform', `translate(${rightX[0] - 11 - maxW - 20},${(top + bottom) / 2}) rotate(-90)`)
      .attr('text-anchor', 'middle')
      .style('font-size', '41px')
      .text(r.name)

  gR.append('text')
      .attr('x', (rightX[0] + rightX[1]) / 2).attr('y', bottom + 93)
      .attr('text-anchor', 'middle')
      .style('font-size', '41px')
      .text('Draw')

  for (let ch = 0; ch < 4; ch++) {
    r.trace.forEach((chains, c) => {
      const series = chains[ch]
      const drawOf = d3.scaleLinear().domain([0, series.length - 1]).range([0, lastDraw])
      const tline = d3.line().x((d, i) => tx(drawOf(i))).y(d => ty(d))
      gR.append('path')
          .attr('d', tline(series))
          .style('fill', 'none')
          .style('stroke', r.colors[c])
          .style('stroke-width', 4)
          .style('stroke-dasharray', lineDash[ch])
    })
  }
})
</script>
</body>
</html>
